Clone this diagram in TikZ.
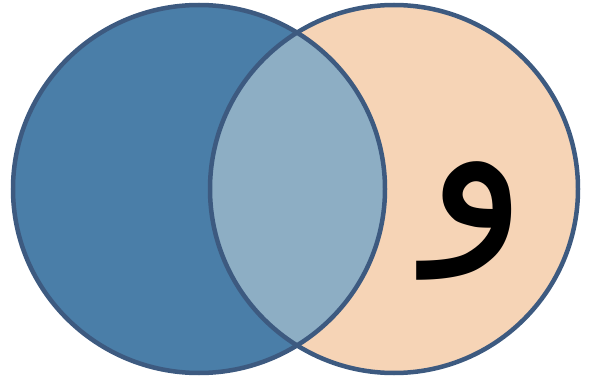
\documentclass[tikz,border=0pt]{standalone}
\usepackage{fontspec}
\newfontfamily\arabicfont[Script=Arabic]{DejaVu Sans}
\TeXXeTstate=1
\definecolor{leftblue}{HTML}{4A7EA8}
\definecolor{midblue}{HTML}{8DAEC4}
\definecolor{peach}{HTML}{F6D4B6}
\definecolor{edge}{HTML}{3D5A80}
\begin{document}
\begin{tikzpicture}[x=1pt,y=-1pt,
  outline/.style={draw=edge,line width=4.5pt}]
\useasboundingbox (0,0) rectangle (592,385);
\fill[white] (0,0) rectangle (592,385);
\coordinate (cl) at (199,189);
\coordinate (cr) at (394,189);
\fill[leftblue] (cl) ellipse [x radius=186pt, y radius=184pt];
\fill[peach] (cr) ellipse [x radius=184pt, y radius=184pt];
\begin{scope}
  \clip (cl) ellipse [x radius=186pt, y radius=184pt];
  \fill[midblue] (cr) ellipse [x radius=184pt, y radius=184pt];
\end{scope}
\draw[outline] (cl) ellipse [x radius=186pt, y radius=184pt];
\draw[outline] (cr) ellipse [x radius=184pt, y radius=184pt];
\node (waw) at (477,221) {\fontsize{212}{212}\selectfont\arabicfont\beginR و\endR};
\end{tikzpicture}
\end{document}
